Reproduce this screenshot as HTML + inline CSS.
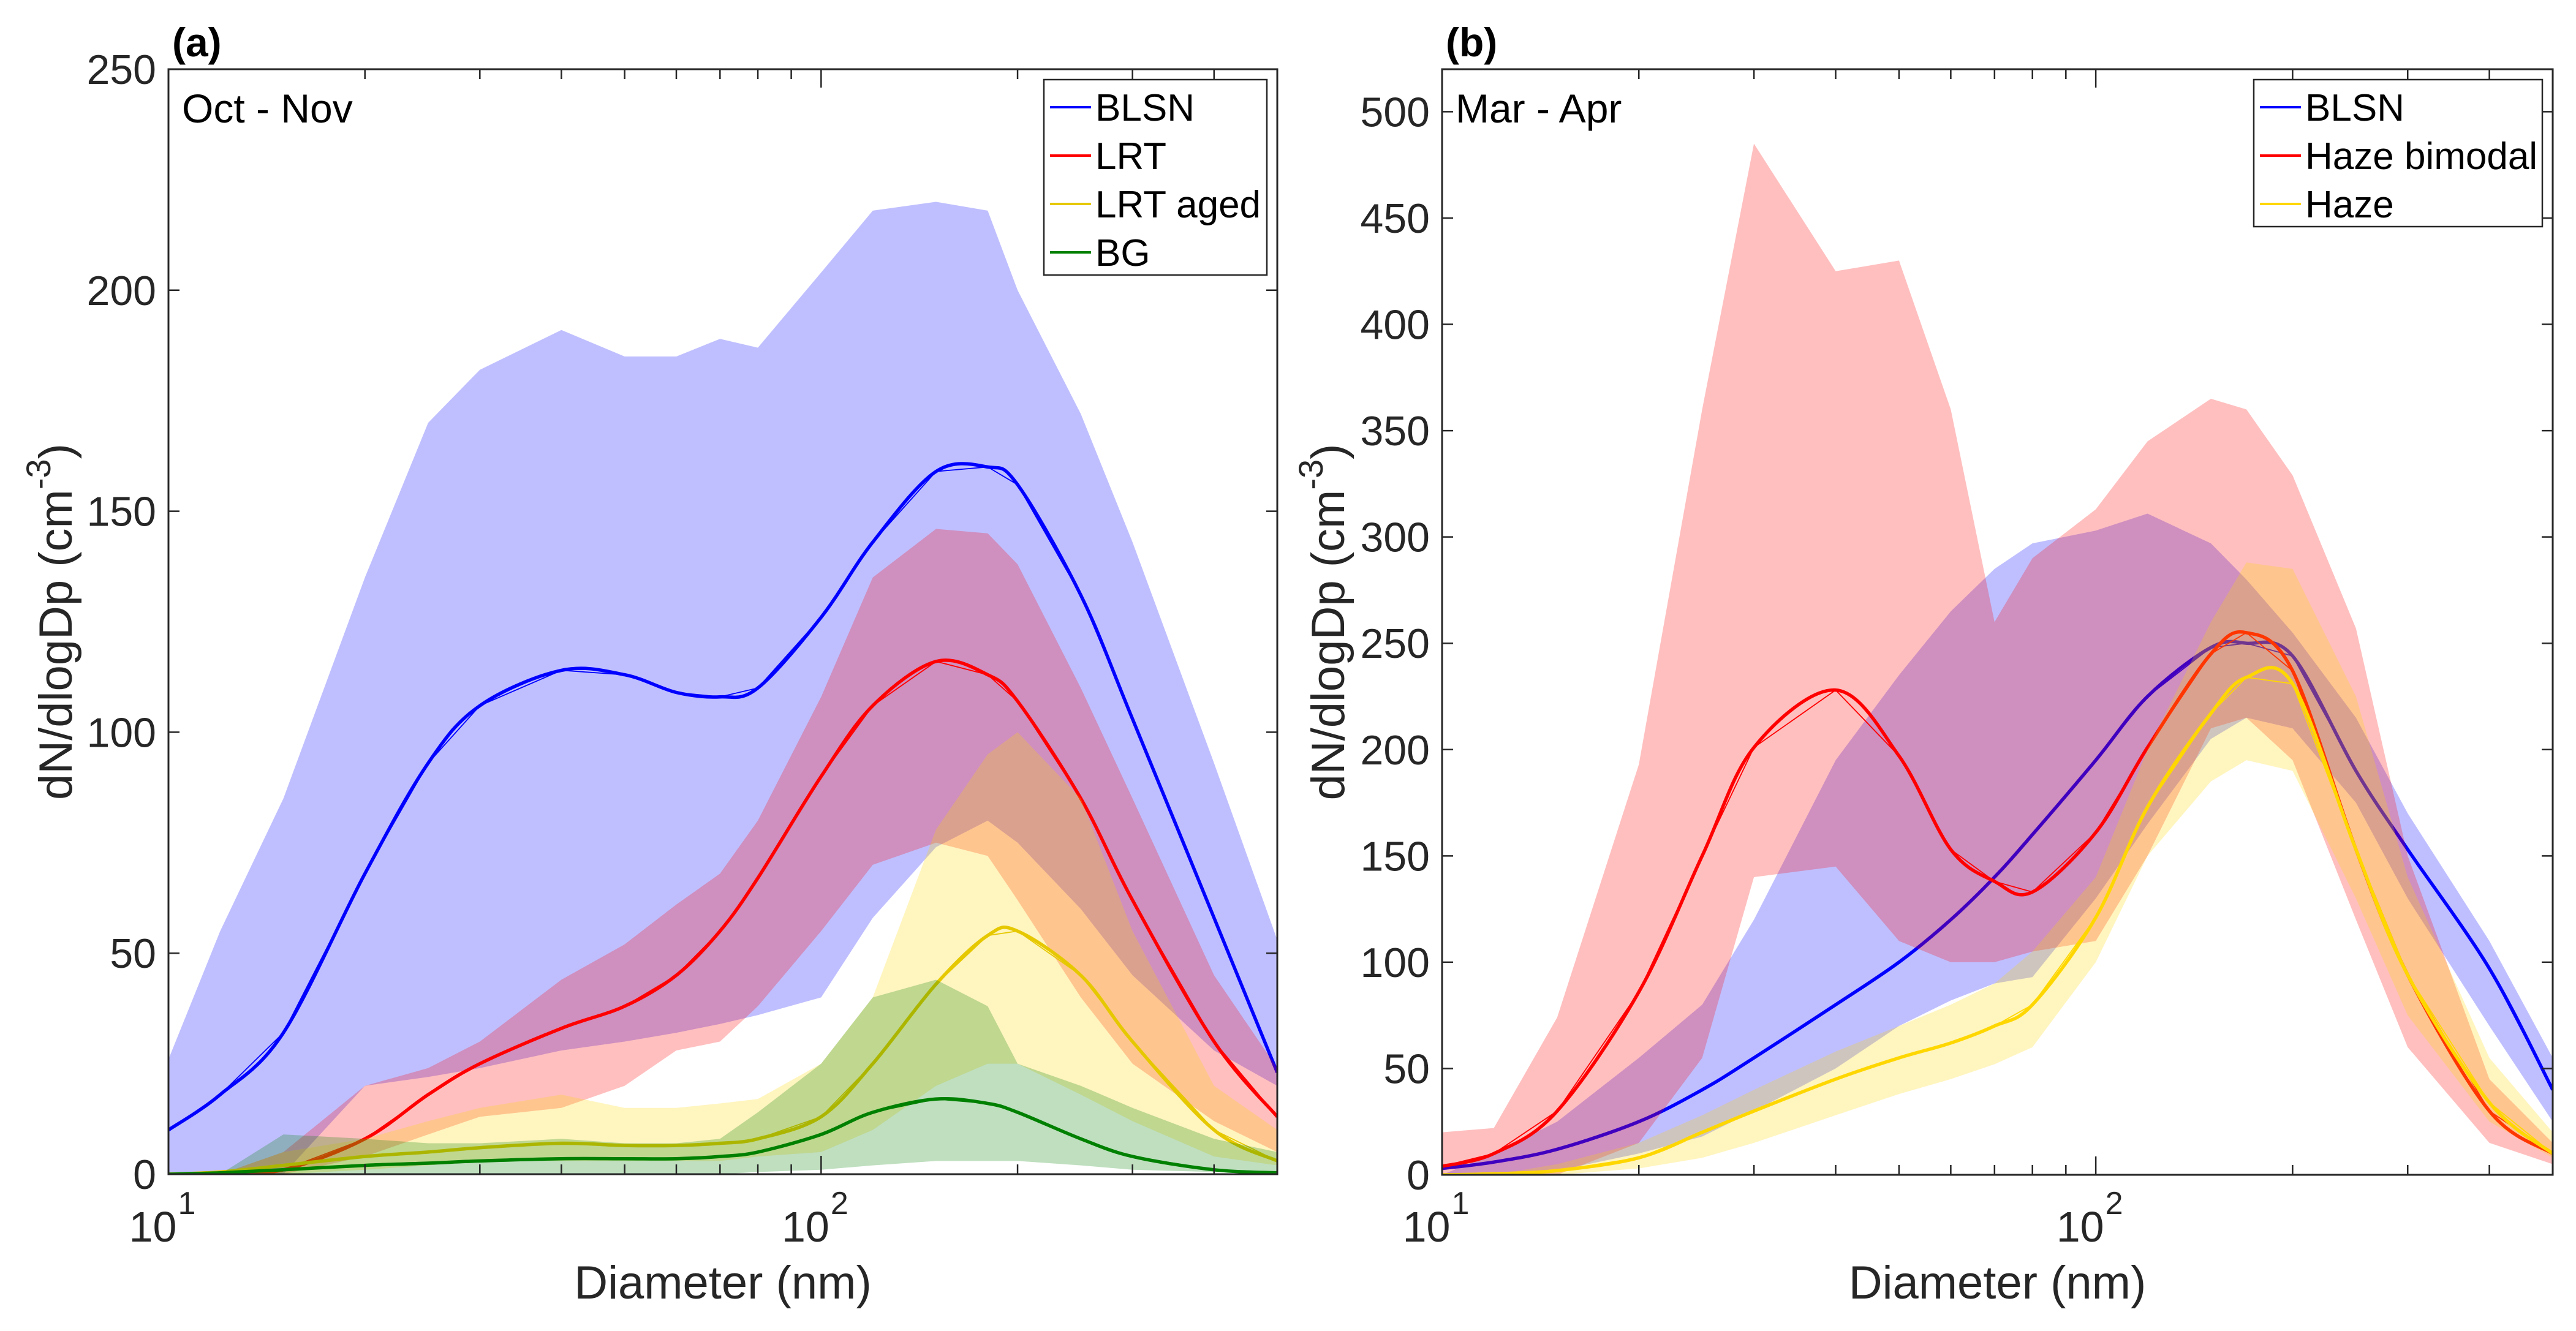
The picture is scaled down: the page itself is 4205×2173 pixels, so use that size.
<!DOCTYPE html>
<html><head><meta charset="utf-8"><style>
html,body{margin:0;padding:0;background:#fff;}
svg{display:block;font-family:"Liberation Sans",Arial,sans-serif;}
</style></head><body>
<svg id="fig" width="4205" height="2173" viewBox="0 0 4205 2173" xmlns="http://www.w3.org/2000/svg">
<rect width="4205" height="2173" fill="#fff"/>
<g id="pa"></g>
<g id="pb"></g>
</svg>
<script>
// ---------- Panel (a): Oct - Nov ----------
const diamA = [10,12,15,20,25,30,40,50,60,70,80,100,120,150,180,200,250,300,400,500];
const blsnA      = [10,18,32,68,93,106,114,113,109,108,110,126,143,159,160,156,131,103,58,23];
const blsnAUp    = [26,55,85,135,170,182,191,185,185,189,187,204,218,220,218,200,172,143,93,53];
const blsnALo    = [0,0,0,20,22,24,28,30,32,34,36,40,58,74,80,75,60,45,28,20];
const lrtA       = [0,0.3,1,8,18,25,33,38,45,55,67,90,106,116,113,107,85,62,30,13];
const lrtAUp     = [0,0,5,20,24,30,44,52,61,68,80,108,135,146,145,138,110,85,45,24];
const lrtALo     = [0,0,0,4,9,13,15,20,28,30,38,55,70,75,72,62,40,25,12,5];
const agedA      = [0,0.5,2,4,5,6,7,6.5,6.5,7,8,13,25,43,54,55,45,30,10,3];
const agedAUp    = [0,0,5,8,12,15,18,15,15,16,17,25,40,78,95,100,85,55,20,10];
const agedALo    = [0,0,0,1,2,3,3,3,3,3,4,5,10,20,25,25,18,12,4,2];
const bgA        = [0,0.3,1,2,2.5,3,3.5,3.5,3.5,4,5,9,14,17,16,14,8,4,1,0.3];
const bgAUp      = [0,0,9,8,7,7,8,7,7,8,14,25,40,44,38,25,20,15,8,5];
const bgALo      = [0,0,0,0,0,0,0,0,0,0,0.5,1,2,3,3,3,2,1,0.5,0.3];
const yTicksA = [0,50,100,150,200,250];

// ---------- Panel (b): Mar - Apr ----------
const diamB = [10,12,15,20,25,30,40,50,60,70,80,100,120,150,170,200,250,300,400,500];
const blsnB      = [3,6,12,25,40,55,80,100,120,140,160,195,225,248,250,244,190,153,97,40];
const blsnBUp    = [0,10,25,55,80,120,195,235,265,285,297,303,311,297,280,255,215,170,110,55];
const blsnBLo    = [0,0,2,10,18,30,50,70,82,90,93,130,165,205,215,210,175,130,70,25];
const hazeBiB    = [4,10,30,86,150,201,228,197,153,138,133,161,201,245,255,237,153,94,30,10];
const hazeBiBUp  = [20,22,74,193,360,485,425,430,360,260,290,313,345,365,360,329,257,150,45,15];
const hazeBiBLo  = [0,0,0,15,55,140,145,110,100,100,105,110,150,210,215,195,120,60,15,5];
const hazeB      = [0,0.5,2,8,20,30,45,55,62,70,80,121,173,217,234,231,153,94,34,10];
const hazeBUp    = [0,0,5,15,28,40,58,70,80,90,105,140,200,260,288,285,225,140,55,20];
const hazeBLo    = [0,0,0,3,8,15,28,38,45,52,60,100,150,185,195,190,130,75,25,8];
const yTicksB = [0,50,100,150,200,250,300,350,400,450,500];

const NS = "http://www.w3.org/2000/svg";
function mk(parent, tag, attrs){
  const e = document.createElementNS(NS, tag);
  for (const k in attrs) e.setAttribute(k, attrs[k]);
  parent.appendChild(e);
  return e;
}
function smoothPath(pts){
  let d = "M" + pts[0][0].toFixed(1) + "," + pts[0][1].toFixed(1);
  for (let i = 0; i < pts.length - 1; i++){
    const p0 = pts[Math.max(0,i-1)], p1 = pts[i], p2 = pts[i+1], p3 = pts[Math.min(pts.length-1,i+2)];
    const c1x = p1[0] + (p2[0]-p0[0])/6, c1y = p1[1] + (p2[1]-p0[1])/6;
    const c2x = p2[0] - (p3[0]-p1[0])/6, c2y = p2[1] - (p3[1]-p1[1])/6;
    d += " C" + c1x.toFixed(1) + "," + c1y.toFixed(1) + " " + c2x.toFixed(1) + "," + c2y.toFixed(1) + " " + p2[0].toFixed(1) + "," + p2[1].toFixed(1);
  }
  return d;
}
function linPath(pts){
  return pts.map((p,i)=>(i?"L":"M")+p[0].toFixed(1)+","+p[1].toFixed(1)).join(" ");
}

function panel(g, cfg){
  const {L,R,T,B,ymax,xs,series,yTicks,tag,season,legend,id} = cfg;
  const xS = d => L + (Math.log10(d) - 1) / (Math.log10(500) - 1) * (R - L);
  const yS = v => B - v / ymax * (B - T);
  const clip = mk(g, "clipPath", {id: "clip" + id});
  mk(clip, "rect", {x: L, y: T, width: R-L, height: B-T});
  const plot = mk(g, "g", {"clip-path": "url(#clip" + id + ")"});
  
  
  series.forEach(s => {
    const up = xs.map((d,i)=>[xS(d), yS(s.up[i])]);
    const lo = xs.map((d,i)=>[xS(d), yS(s.lo[i])]).reverse();
    const band = mk(plot, "path", {d: linPath(up.concat(lo)) + " Z", fill: s.color, "fill-opacity": 0.25, stroke: "none"});
    
    
    const pts = xs.map((d,i)=>[xS(d), yS(s.mid[i])]);
    const line = mk(plot, "path", {d: smoothPath(pts), fill: "none", stroke: s.line || s.color, "stroke-width": 5.5});
    
    
    const raw = mk(plot, "path", {d: linPath(pts), fill: "none", stroke: s.line || s.color, "stroke-width": 1.8});
    
    
  });
  const box = mk(g, "rect", {x: L, y: T, width: R-L, height: B-T, fill: "none", stroke: "#262626", "stroke-width": 3});
  
  
  yTicks.forEach(v => {
    const y = yS(v);
    mk(g, "line", {x1: L, x2: L+18, y1: y, y2: y, stroke: "#262626", "stroke-width": 2.5});
    mk(g, "line", {x1: R, x2: R-18, y1: y, y2: y, stroke: "#262626", "stroke-width": 2.5});
    const t = mk(g, "text", {x: L-20, y: y+24, "text-anchor": "end", "font-size": 68, fill: "#262626"});
    t.textContent = v;
    
    
  });
  [10,20,30,40,50,60,70,80,90,100,200,300,400].forEach(d => {
    const x = xS(d), len = (d===10||d===100) ? 30 : 16;
    mk(g, "line", {x1: x, x2: x, y1: B, y2: B-len, stroke: "#262626", "stroke-width": 2.5});
    mk(g, "line", {x1: x, x2: x, y1: T, y2: T+len, stroke: "#262626", "stroke-width": 2.5});
  });
  [[10,"1"],[100,"2"]].forEach(([d,e]) => {
    const t = mk(g, "text", {x: xS(d)-10, y: 2027, "text-anchor": "middle", "font-size": 70, fill: "#262626"});
    
    
    t.textContent = "10";
    const s = mk(t, "tspan", {dx: 2, dy: -45, "font-size": 52});
    s.textContent = e;
  });
  const xt = mk(g, "text", {x: (L+R)/2, y: 2120, "text-anchor": "middle", "font-size": 76, fill: "#262626"});
  xt.textContent = "Diameter (nm)";
  
  
  const yx = cfg.yTitleX, yy = (T+B)/2;
  const yt = mk(g, "text", {x: yx, y: yy, transform: "rotate(-90 " + yx + " " + yy + ")", "text-anchor": "middle", "font-size": 76, fill: "#262626", "dominant-baseline": "middle"});
  
  
  yt.textContent = "dN/dlogDp (cm";
  const sup = mk(yt, "tspan", {dy: -30, "font-size": 56});
  sup.textContent = "-3";
  const cl = mk(yt, "tspan", {dy: 30});
  cl.textContent = ")";
  const tg = mk(g, "text", {x: L+6, y: 92, "font-size": 66, "font-weight": "bold", fill: "#000"});
  tg.textContent = tag;
  
  
  const se = mk(g, "text", {x: L+22, y: 200, "font-size": 66, fill: "#000"});
  se.textContent = season;
  
  
  const lg = mk(g, "g", {});
  
  
  mk(lg, "rect", {x: legend.x, y: legend.y, width: legend.w, height: legend.h, fill: "#fff", stroke: "#262626", "stroke-width": 2.5});
  series.forEach((s,i) => {
    const cy = legend.y + 45 + i*79;
    mk(lg, "line", {x1: legend.x+10, x2: legend.x+77, y1: cy, y2: cy, stroke: s.line || s.color, "stroke-width": 4});
    const t = mk(lg, "text", {x: legend.x+84, y: cy+22, "font-size": 62, fill: "#000"});
    t.textContent = s.label;
    
    
  });
}

panel(document.getElementById("pa"), {
  id: "a", L: 275, R: 2085, T: 113, B: 1917, ymax: 250, xs: diamA, yTicks: yTicksA,
  tag: "(a)", season: "Oct - Nov", yTitleX: 97,
  legend: {x: 1704, y: 130, w: 364, h: 319},
  series: [
    {key: "blsn", label: "BLSN", color: "#0000ff", mid: blsnA, up: blsnAUp, lo: blsnALo},
    {key: "lrt", label: "LRT", color: "#ff0000", mid: lrtA, up: lrtAUp, lo: lrtALo},
    {key: "lrt-aged", label: "LRT aged", color: "#ffd700", line: "#e6c800", mid: agedA, up: agedAUp, lo: agedALo},
    {key: "bg", label: "BG", color: "#008000", mid: bgA, up: bgAUp, lo: bgALo}
  ]
});
panel(document.getElementById("pb"), {
  id: "b", L: 2354, R: 4167, T: 113, B: 1918, ymax: 520, xs: diamB, yTicks: yTicksB,
  tag: "(b)", season: "Mar - Apr", yTitleX: 2174,
  legend: {x: 3679, y: 130, w: 471, h: 240},
  series: [
    {key: "blsn", label: "BLSN", color: "#0000ff", mid: blsnB, up: blsnBUp, lo: blsnBLo},
    {key: "haze-bimodal", label: "Haze bimodal", color: "#ff0000", mid: hazeBiB, up: hazeBiBUp, lo: hazeBiBLo},
    {key: "haze", label: "Haze", color: "#ffd700", mid: hazeB, up: hazeBUp, lo: hazeBLo}
  ]
});
</script>
</body></html>
